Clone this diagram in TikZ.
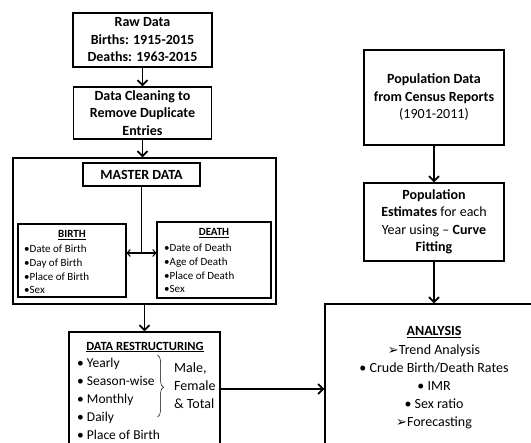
\documentclass[tikz,border=0pt]{standalone}
\usepackage{fontspec}
\setmainfont{Carlito}
\newfontfamily\symfont{DejaVu Sans}
\usetikzlibrary{arrows.meta,decorations.pathreplacing}

\newcommand{\headtext}[1]{\underline{\textbf{#1}}}
\newcommand{\tick}{{\symfont\fontsize{13}{13}\selectfont ➢}}

\tikzset{
  box/.style={draw,line width=1.2pt,inner sep=0pt,align=center,font=\bfseries\fontsize{14}{17.5}\selectfont},
  frame/.style={draw,line width=1.1pt,inner sep=0pt},
  flow/.style={line width=1.8pt,-{Straight Barb[length=5pt,width=10pt]}},
  txt/.style={inner sep=0pt,align=left,font=\fontsize{14}{17.9}\selectfont},
  small/.style={inner sep=0pt,align=left,font=\fontsize{11}{13.6}\selectfont},
}

\begin{document}
\begin{tikzpicture}[x=1pt,y=-1pt]
\clip (0,0) rectangle (531,443);

% left column
\node[box,minimum width=139pt,minimum height=54pt] (raw) at (142.5,40) {Raw Data\\Births: 1915-2015\\Deaths: 1963-2015};
\node[box,minimum width=138pt,minimum height=52pt] (clean) at (142.5,113) {Data Cleaning to\\Remove Duplicate\\Entries};

% master data with the two tables
\node[frame,minimum width=263pt,minimum height=146pt] (master) at (144.5,231) {};
\node[box,minimum width=117pt,minimum height=23pt] (mdata) at (141.5,174.5) {MASTER DATA};
\node[frame,minimum width=108pt,minimum height=73pt] (birth) at (72,260.5) {};
\node[frame,minimum width=114pt,minimum height=76pt] (death) at (214,260) {};

\node[small,font=\bfseries\fontsize{11}{13.6}\selectfont] (btitle) at (72,235) {\headtext{BIRTH}};
\node[small,anchor=west] (blist) at (24,269.5) {•Date of Birth\\•Day of Birth\\•Place of Birth\\•Sex};
\node[small,font=\bfseries\fontsize{11}{13.6}\selectfont] (dtitle) at (214,233) {\headtext{DEATH}};
\node[small,anchor=west] (dlist) at (164,268.5) {•Date of Death\\•Age of Death\\•Place of Death\\•Sex};

\coordinate (split) at (141.5,253);
\draw[line width=1.1pt] (mdata) -- (split);
\draw[line width=1.1pt,{Straight Barb[length=3pt,width=7pt]}-{Straight Barb[length=3pt,width=7pt]}]
  (birth.east |- split) -- (death.west |- split);

% restructuring
\node[frame,line width=1.2pt,minimum width=151pt,minimum height=114pt] (restr) at (144.5,389) {};
\node[txt,font=\bfseries\fontsize{12.5}{14}\selectfont] (rtitle) at (145,347) {\headtext{DATA RESTRUCTURING}};
\node[txt,font=\fontsize{13.5}{17.9}\selectfont,anchor=west] (rlist) at (77,399) {• Yearly\\• Season-wise\\• Monthly\\• Daily\\• Place of Birth};
\draw[line width=0.5pt,decorate,decoration={brace,amplitude=6pt,aspect=0.52}] (157.5,355) -- (157.5,417);
\node[txt,anchor=west] (sex) at (174,386) {Male,\\Female\\\& Total};

% right column
\node[box,minimum width=140pt,minimum height=95pt] (pop) at (434,97.5) {Population Data\\from Census Reports\\\mdseries(1901-2011)};
\node[box,minimum width=140pt,minimum height=78pt] (est) at (434,222) {Population\\Estimates \mdseries for each\\\mdseries Year using -- \bfseries Curve\\Fitting};

% analysis
\node[frame,line width=1.2pt,minimum width=218pt,minimum height=170pt] (analysis) at (434,389) {};
\node[txt,font=\bfseries\fontsize{14}{17.8}\selectfont] (atitle) at (434,332) {\headtext{ANALYSIS}};
\node[txt,align=center] (alist) at (434,387) {\tick Trend Analysis\\• Crude Birth/Death Rates\\• IMR\\• Sex ratio\\\tick Forecasting};

% connectors
\draw[flow] (raw) -- (clean);
\draw[flow] (clean.south) -- (clean.south |- master.north);
\draw[flow] (master) -- (restr);
\draw[flow] (restr) -- (analysis);
\draw[flow] (pop) -- (est);
\draw[flow] (est) -- (analysis);
\end{tikzpicture}
\end{document}
